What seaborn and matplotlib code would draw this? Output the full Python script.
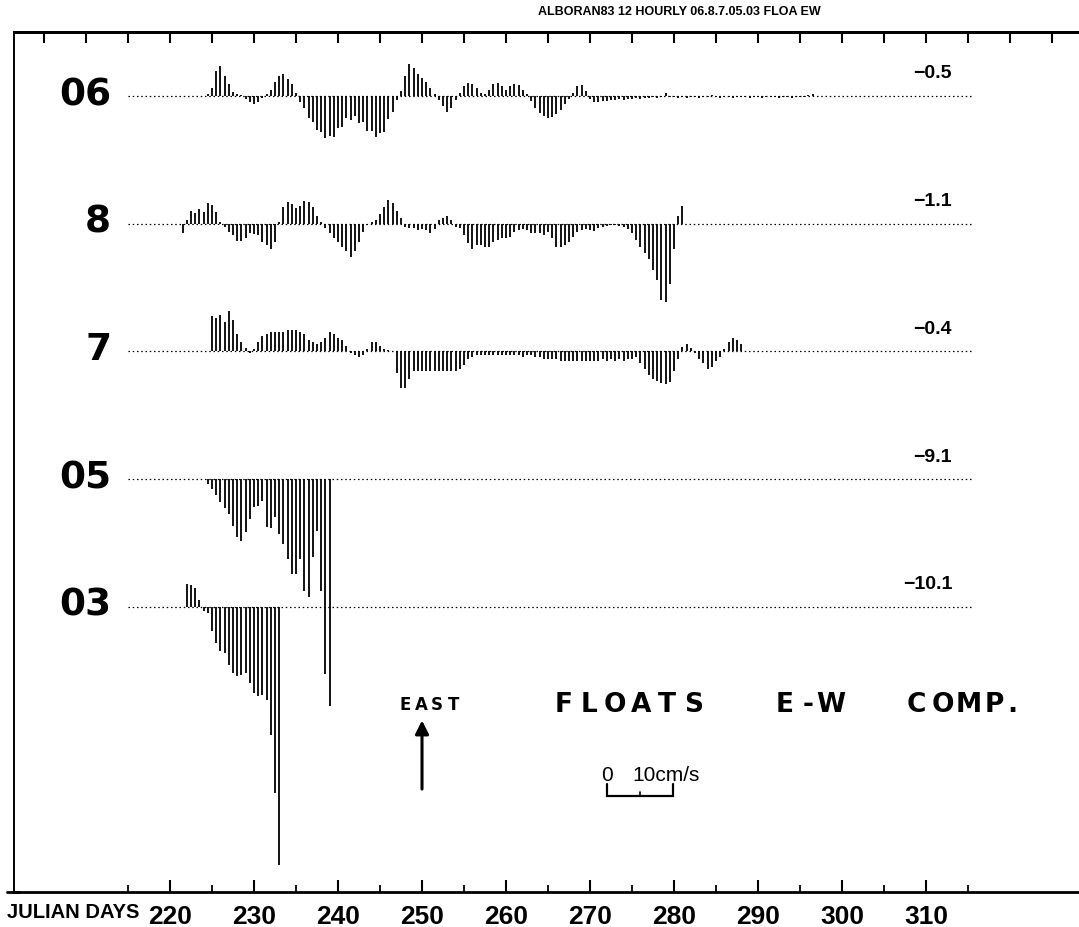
import numpy as np
import pandas as pd
import matplotlib
matplotlib.use("Agg")
import matplotlib.pyplot as plt
from matplotlib import font_manager
from matplotlib.transforms import offset_copy
import seaborn as sns

# ---- data: 12-hourly east-west velocity components (cm/s), east positive ----
FLOAT_IDS = ["06", "8", "7", "05", "03"]
START_DAYS = [224.5, 221.5, 225.0, 224.5, 222.0]
MEAN_LABELS = ["\u22120.5", "\u22121.1", "\u22120.4", "\u22129.1", "\u221210.1"]

U_06 = [0.3, 1.2, 3.8, 4.5, 3.0, 1.8, 0.6, 0.3, 0.2, -0.5, -0.9, -1.2, -0.9, -0.3, 0.3, 0.9, 2.1, 3.0, 3.3, 2.6, 1.8, 0.5,
        -0.9, -1.8, -3.3, -3.9, -5.2, -5.5, -6.4, -6.0, -6.2, -4.8, -4.7, -3.3, -3.6, -3.0, -4.1, -3.9, -5.3, -5.3, -6.2, -5.6,
        -5.5, -3.5, -2.4, -0.6,
        0.8, 3.0, 4.8, 4.2, 3.3, 2.7, 2.1, 1.2, 0.3,
        -0.6, -1.5, -2.4, -1.8, -0.6,
        0.5, 1.5, 2.0, 1.8, 1.2, 0.5, 0.3, 0.9, 1.8, 2.0, 1.5, 0.9, 1.5, 1.8, 1.7, 0.9, 0.3,
        -0.8, -1.8, -2.6, -3.0, -3.3, -3.2, -2.7, -2.1, -1.2, -0.5,
        0.5, 1.5, 1.7, 0.8,
        -0.5, -0.9, -0.9, -0.8, -0.8, -0.6, -0.6, -0.5, -0.6, -0.5, -0.5, -0.3, -0.5, -0.3, -0.3, -0.2, -0.3, -0.2, 0.5, -0.2,
        -0.2, -0.3, -0.2, -0.3, -0.2, -0.2, -0.3, -0.2, -0.2, 0.2, -0.2, -0.3, -0.2, -0.2, -0.3, -0.2, -0.2,
        -0.2, -0.3, -0.2, -0.2, -0.3, -0.2, -0.2, -0.2, -0.3, -0.2, -0.2, -0.3, -0.2, -0.2, -0.2, 0.2, 0.3]

U_8 = [-1.4, 0.5, 2.0, 1.7, 2.3, 1.8, 3.2, 2.9, 1.8, 0.3,
       -0.5, -1.2, -1.7, -2.6, -2.6, -2.1, -1.4, -1.5, -1.7, -2.7,
       -3.2, -3.9, -2.7, 0.2, 2.6, 3.3, 3.0, 2.4, 2.7, 3.5,
       3.3, 2.6, 1.1, 0.2, -0.6, -1.4, -2.1, -2.7, -3.6, -4.2,
       -5.0, -4.2, -2.7, -1.2, -0.2, 0.3, 0.5, 1.4, 2.6, 3.6,
       3.2, 2.0, 0.8, -0.5, -0.6, -0.6, -0.9, -0.8, -0.9, -1.4,
       -0.8, 0.5, 0.9, 1.1, 0.5, -0.5, -0.6, -1.7, -2.9, -3.8,
       -3.2, -3.2, -3.5, -3.5, -2.7, -2.4, -2.1, -2.1, -2.0, -1.2,
       -0.9, -0.8, -0.9, -1.4, -1.4, -1.4, -1.7, -1.2, -2.1, -3.5,
       -3.6, -3.2, -2.7, -2.0, -1.2, -0.9, -0.8, -0.9, -1.1,
       -0.6, -0.5, -0.3, -0.2, -0.2, -0.3, -0.5, -0.8, -1.4, -2.4,
       -3.6, -4.4, -5.3, -7.0, -8.6, -11.5, -11.8, -9.1, -3.8, 1.2, 2.7]

U_7 = [5.3, 5.0, 5.5, 4.4, 6.2, 4.7, 2.7, 1.5, 0.5, -0.3,
       0.3, 1.5, 2.4, 2.7, 2.9, 2.9, 3.0, 3.0, 3.2, 3.3,
       3.2, 3.0, 2.7, 1.8, 1.5, 1.2, 1.5, 2.1, 2.9, 2.6,
       2.0, 1.7, 0.8, -0.3, -0.5, -0.9, -0.6, 0.3, 1.5, 1.4,
       0.8, 0.3, 0.2, 0.1, -3.3, -5.6, -5.5, -4.1, -3.0, -2.9,
       -2.9, -3.0, -3.0, -3.0, -2.9, -2.9, -3.0, -3.0, -2.9, -2.7,
       -2.0, -1.2, -0.8, -0.5, -0.6, -0.5, -0.6, -0.6, -0.5, -0.6,
       -0.6, -0.5, -0.6, -0.6, -0.8, -0.6, -0.6, -0.9, -0.9, -1.1,
       -1.1, -1.2, -1.2, -1.4, -1.4, -1.4, -1.4, -1.4, -1.4, -1.4,
       -1.4, -1.4, -1.4,
       -1.2, -1.4, -1.2, -1.4, -1.2, -1.4, -1.1, -1.2, -0.9, -1.8,
       -2.6, -3.5, -4.2, -4.5, -4.8, -5.0, -4.7, -3.0, -1.1, 0.6,
       1.2, 0.5, -0.3, -1.2, -1.8, -2.7, -2.3, -1.5, -0.8, 0.3,
       1.5, 2.1, 1.8, 1.1]

U_05 = [-0.8, -1.5, -2.4, -3.5, -4.4, -5.3, -7.1, -8.8, -9.4, -8.0,
        -6.1, -4.2, -4.1, -3.3, -7.3, -7.4, -5.8, -8.3, -9.8, -12.1,
        -14.4, -14.4, -12.1, -17.0, -17.9, -11.8, -7.9, -17.0, -29.5, -34.4]

U_03 = [3.5, 3.3, 2.9, 1.1, -0.6, -0.9, -3.6, -5.5, -6.7, -7.0,
        -8.8, -10.0, -10.5, -10.3, -10.0, -11.5, -13.0, -13.5, -13.3, -14.1,
        -19.4, -28.2, -39.1]

SERIES = [U_06, U_8, U_7, U_05, U_03]
TICK_DAYS = [220, 230, 240, 250, 260, 270, 280, 290, 300, 310]
TICK_LABELS = ["220", "230", "240", "250", "260", "270", "280", "290", "300", "310"]
STEP_DAYS = 0.5
BASE_START, BASE_END = 215.0, 315.5

rows = []
for fid, t0, vals in zip(FLOAT_IDS, START_DAYS, SERIES):
    for k, v in enumerate(vals):
        rows.append({"float": fid, "day": t0 + k * STEP_DAYS, "u": v})
df = pd.DataFrame(rows)

# ---- style ----
sns.set_theme(style="white")
plt.rcParams["font.family"] = ["Liberation Sans", "DejaVu Sans"]
plt.rcParams["text.color"] = "black"
plt.rcParams["xtick.color"] = "black"
plt.rcParams["axes.edgecolor"] = "black"

WIDE = "DejaVu Sans"


def narrow_font(size, weight="bold"):
    for fam in ["Liberation Sans Narrow", "DejaVu Sans Condensed"]:
        try:
            font_manager.findfont(font_manager.FontProperties(family=fam), fallback_to_default=False)
            return font_manager.FontProperties(family=fam, size=size, weight=weight)
        except Exception:
            continue
    return font_manager.FontProperties(family="Liberation Sans", size=size, weight=weight)


fig = plt.figure(figsize=(10.79, 9.28), dpi=100)
ax = fig.add_axes([14 / 1079, 35 / 928, 1065 / 1079, 860 / 928])
ax.set_facecolor("white")

TOP_GAP = 9.7       # cm/s from top of frame to the first track
TRACK_GAP = 19.35   # cm/s between track baselines
ax.set_xlim(201.43, 328.21)
ax.set_ylim(-130.3, 0)

for i, fid in enumerate(FLOAT_IDS):
    base = -TOP_GAP - i * TRACK_GAP
    sub = df[df["float"] == fid]
    ax.plot([BASE_START, BASE_END], [base, base], color="black", lw=0.9,
            dashes=(1.2, 2.2), zorder=1)
    ax.vlines(sub["day"], base, base + sub["u"], color="black", lw=1.3, zorder=2)
    ax.text(213.0, base + 0.3, fid, ha="right", va="center", fontsize=27,
            fontweight="bold", family=WIDE, color="black")
    ax.text(313.1, base + 3.5, MEAN_LABELS[i], ha="right", va="center",
            fontsize=14, fontweight="bold", color="black")

# ---- frame and ticks ----
ax.spines["right"].set_visible(False)
ax.spines["top"].set_linewidth(2)
ax.spines["bottom"].set_linewidth(2)
ax.spines["left"].set_linewidth(1.4)
ax.set_yticks([])
ax.set_xticks(TICK_DAYS)
ax.set_xticks(np.arange(215, 316, 10), minor=True)
ax.set_xticklabels(TICK_LABELS, fontproperties=narrow_font(19))
ax.tick_params(axis="x", which="major", direction="in", length=9, width=1.5,
               pad=9, colors="black", bottom=True, top=False)
ax.tick_params(axis="x", which="minor", direction="in", length=5, width=1.3,
               bottom=True, top=False)
# baseline rule runs a little past the left frame edge
ax.plot([200.6, 202.0], [-130.3, -130.3], color="black", lw=2, clip_on=False)

top = ax.secondary_xaxis("top")
top.set_xticks(np.arange(205, 330, 5))
top.set_xticklabels([])
top.tick_params(direction="in", length=8, width=1.5, colors="black")
top.spines["top"].set_linewidth(2)

fig.text(7 / 1079, 1 - 913 / 928, "JULIAN DAYS", ha="left", va="center",
         fontproperties=narrow_font(14.5), color="black")
fig.text(538 / 1079, 1 - 12 / 928, "ALBORAN83 12 HOURLY 06.8.7.05.03 FLOA EW",
         ha="left", va="center", fontproperties=narrow_font(9), color="black")


# ---- annotations ----
def spaced(x, y, text, pitch_px, **kw):
    for j, ch in enumerate(text):
        tr = offset_copy(ax.transData, fig=fig, x=j * pitch_px, y=0, units="dots")
        ax.text(x, y, ch, transform=tr, ha="center", va="center", **kw)


title_y = -101.8
big = dict(fontsize=19, fontweight="bold", family=WIDE, color="black")
spaced(266.8, title_y, "FLOATS", 26, **big)
spaced(293.2, title_y, "E-W", 23, **big)
spaced(308.9, title_y, "COMP", 26, **big)
spaced(308.9 + 96 / 8.4, title_y, ".", 0, **big)

spaced(248.0, title_y, "EAST", 16, fontsize=12, fontweight="bold", family=WIDE, color="black")
ax.annotate("", xy=(250.0, -104.3), xytext=(250.0, -114.7),
            arrowprops=dict(arrowstyle="-|>", color="black", lw=2.2,
                            mutation_scale=20, shrinkA=0, shrinkB=0))

# 10 cm/s scale bar drawn with the same pixel scale as the sticks
fig.canvas.draw()
p0 = ax.transData.transform((0, 0))
p_v = ax.transData.transform((0, 10))
p_d = ax.transData.transform((1, 0))
bar_days = (p_v[1] - p0[1]) / (p_d[0] - p0[0])
bx, by = 272.0, -115.8
ax.plot([bx, bx, bx + bar_days, bx + bar_days], [by + 1.8, by, by, by + 1.8],
        color="black", lw=1.6, solid_joinstyle="miter")
ax.plot([bx + bar_days / 2] * 2, [by, by + 0.6], color="black", lw=1.2)
ax.text(bx, by + 3.3, "0", ha="center", va="center", fontsize=15, color="black")
ax.text(bx + 0.39 * bar_days, by + 3.3, "10cm/s", ha="left", va="center",
        fontsize=15, color="black")

fig.savefig("out.png", dpi=100, facecolor="white")
